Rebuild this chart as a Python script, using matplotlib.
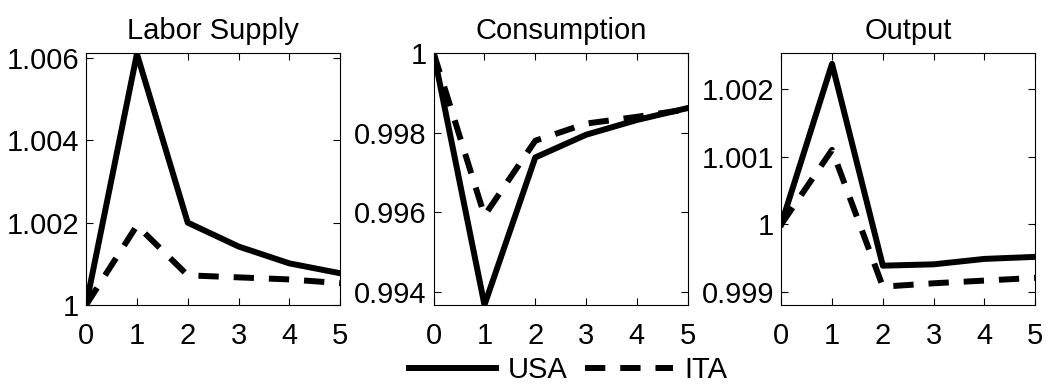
import numpy as np
import matplotlib
matplotlib.use("Agg")
import matplotlib.pyplot as plt
from matplotlib.ticker import FuncFormatter

plt.rcParams['font.family'] = ['Liberation Sans', 'DejaVu Sans']

periods = np.array([0, 1, 2, 3, 4, 5])
titles = ["Labor Supply", "Consumption", "Output"]

labor_usa = [1.0, 1.0061, 1.0020, 1.00142, 1.00101, 1.00077]
labor_ita = [1.0, 1.00193, 1.00072, 1.00067, 1.00062, 1.00053]
cons_usa = [1.0, 0.99368, 0.99738, 0.99795, 0.99832, 0.99862]
cons_ita = [1.0, 0.99592, 0.99780, 0.99823, 0.99840, 0.99859]
out_usa = [1.0, 1.00237, 0.99939, 0.99941, 0.99949, 0.99952]
out_ita = [1.0, 1.0011, 0.99908, 0.99913, 0.99917, 0.99921]

usa = [labor_usa, cons_usa, out_usa]
ita = [labor_ita, cons_ita, out_ita]
yticks = [[1, 1.002, 1.004, 1.006],
          [0.994, 0.996, 0.998, 1],
          [0.999, 1, 1.001, 1.002]]
ylims = [(1.0, 1.00612), (0.99368, 1.0), (0.99881, 1.00253)]

fig = plt.figure(figsize=(10.5, 3.87), dpi=100)
lefts = [0.082, 0.413, 0.744]
fs = 21

def fmt(v, pos):
    return "%g" % round(v, 6)

for i in range(3):
    ax = fig.add_axes([lefts[i], 0.212, 0.242, 0.651])
    l1, = ax.plot(periods, usa[i], color="black", lw=4.3, label="USA")
    l2, = ax.plot(periods, ita[i], color="black", lw=4.3, dashes=(3.4, 2.5), label="ITA")
    ax.set_xlim(0, 5)
    ax.set_ylim(*ylims[i])
    ax.set_xticks(periods)
    ax.set_yticks(yticks[i])
    ax.yaxis.set_major_formatter(FuncFormatter(fmt))
    ax.tick_params(direction="in", top=True, right=True, length=5, labelsize=fs)
    ax.tick_params(axis="x", pad=12)
    ax.tick_params(axis="y", pad=5)
    ax.set_title(titles[i], fontsize=fs, pad=10)

fig.legend([l1, l2], ["USA", "ITA"], loc="center", bbox_to_anchor=(0.541, 0.044),
           ncol=2, frameon=False, fontsize=fs, handlelength=3, columnspacing=0.6,
           handletextpad=0.4, borderpad=0)

fig.savefig("out.png", dpi=100)
